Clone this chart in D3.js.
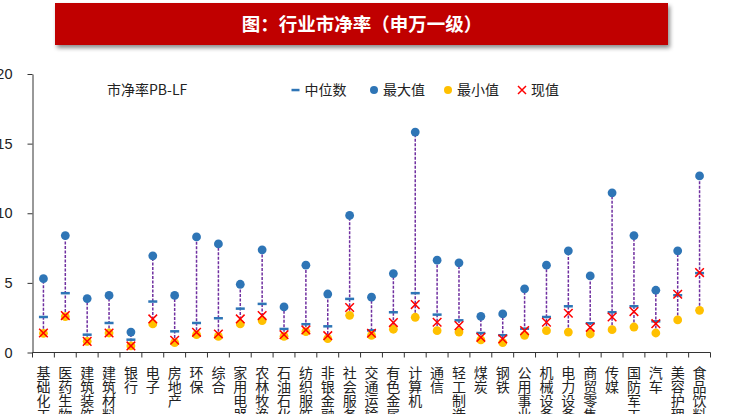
<!DOCTYPE html>
<html>
<head>
<meta charset="utf-8">
<script src="https://cdn.jsdelivr.net/npm/d3@7"></script>
<style>
  body { margin: 0; background: #fff; }
  svg { display: block; font-family: "Noto Sans CJK SC", "Noto Sans", sans-serif; }
</style>
</head>
<body>
<div id="chart"></div>
<script>
// 申万一级行业 市净率PB-LF
let categories = ["基础化工", "医药生物", "建筑装饰", "建筑材料", "银行", "电子", "房地产", "环保", "综合",
  "家用电器", "农林牧渔", "石油石化", "纺织服饰", "非银金融", "社会服务", "交通运输", "有色金属", "计算机",
  "通信", "轻工制造", "煤炭", "钢铁", "公用事业", "机械设备", "电力设备", "商贸零售", "传媒", "国防军工",
  "汽车", "美容护理", "食品饮料"];
let maxVals = [5.3, 8.4, 3.87, 4.1, 1.47, 6.94, 4.1, 8.3, 7.8, 4.9, 7.37, 3.27, 6.27, 4.2, 9.84, 3.97,
  5.67, 15.83, 6.63, 6.44, 2.6, 2.77, 4.57, 6.27, 7.3, 5.5, 11.47, 8.4, 4.47, 7.3, 12.68];
let medianVals = [2.55, 4.26, 1.28, 2.12, 0.92, 3.66, 1.52, 2.12, 2.46, 3.15, 3.49, 1.69, 2.03, 1.88, 3.85,
  1.59, 2.89, 4.26, 2.72, 2.31, 1.4, 1.24, 1.71, 2.55, 3.32, 2.1, 2.89, 3.32, 2.24, 4.11, 5.7];
let minVals = [1.38, 2.58, 0.8, 1.4, 0.47, 2.05, 0.71, 1.28, 1.16, 2.05, 2.29, 1.16, 1.5, 1.0, 2.67, 1.23,
  1.67, 2.53, 1.57, 1.47, 0.9, 0.71, 1.23, 1.57, 1.47, 1.33, 1.64, 1.83, 1.4, 2.34, 3.03];
let currentVals = [1.4, 2.65, 0.8, 1.4, 0.47, 2.41, 0.88, 1.45, 1.33, 2.41, 2.65, 1.28, 1.62, 1.21, 3.23,
  1.38, 2.15, 3.44, 2.17, 1.93, 1.09, 0.97, 1.57, 2.17, 2.82, 1.81, 2.55, 2.94, 2.07, 4.18, 5.74];
let yTicks = [0, 5, 10, 15, 20];
let legendItems = ["中位数", "最大值", "最小值", "现值"];

let width = 735;
let height = 414;
let blue = "#2E75B6";
let yellow = "#FFC000";
let red = "#FF0000";
let purple = "#7030A0";

let svg = d3.select("#chart").append("svg")
  .attr("width", width)
  .attr("height", height);

svg.append("rect").attr("width", width).attr("height", height).attr("fill", "#fff");

// title box with shadow
let defs = svg.append("defs");
let f = defs.append("filter").attr("id", "shadow")
  .attr("x", "-5%").attr("y", "-20%").attr("width", "115%").attr("height", "160%");
f.append("feDropShadow").attr("dx", 2).attr("dy", 3).attr("stdDeviation", 2)
  .attr("flood-color", "#000").attr("flood-opacity", 0.45);

svg.append("rect")
  .attr("x", 55).attr("y", 3).attr("width", 613).attr("height", 42)
  .attr("fill", "#C00000")
  .attr("filter", "url(#shadow)");
svg.append("text")
  .attr("x", 362).attr("y", 31)
  .attr("text-anchor", "middle")
  .attr("fill", "#fff")
  .attr("font-size", 18.5)
  .attr("font-weight", "bold")
  .text("图：行业市净率（申万一级）");

let x = d3.scaleBand().domain(categories).range([32.5, 710.5]).padding(0);
let y = d3.scaleLinear().domain([0, 20]).range([352.5, 74]);

let data = categories.map((c, i) => ({
  cat: c, max: maxVals[i], med: medianVals[i], min: minVals[i], cur: currentVals[i]
}));

// y axis
let yAxis = svg.append("g")
  .attr("transform", "translate(32.5,0)")
  .call(d3.axisLeft(y).tickValues(yTicks).tickSize(5).tickSizeOuter(0).tickPadding(15));
yAxis.select(".domain").attr("stroke", "#333");
yAxis.selectAll(".tick line").attr("stroke", "#333");
yAxis.selectAll(".tick text")
  .attr("font-size", 14.5)
  .attr("fill", "#222")
  .attr("font-family", "Liberation Sans, Arial, sans-serif");

// x axis: line + ticks at band edges
let xg = svg.append("g");
xg.append("line")
  .attr("x1", x.range()[0]).attr("x2", x.range()[1])
  .attr("y1", y(0)).attr("y2", y(0))
  .attr("stroke", "#333");
let edges = categories.map(c => x(c)).concat([x.range()[1]]);
xg.selectAll("line.xtick")
  .data(edges)
  .enter()
  .append("line")
  .classed("xtick", true)
  .attr("x1", d => d).attr("x2", d => d)
  .attr("y1", y(0)).attr("y2", y(0) + 5)
  .attr("stroke", "#333");

// vertical category labels (one text each, top-to-bottom)
xg.selectAll("text.xlabel")
  .data(categories)
  .enter()
  .append("text")
  .classed("xlabel", true)
  .attr("x", d => x(d) + x.bandwidth() / 2)
  .attr("y", 365.5)
  .style("writing-mode", "vertical-rl")
  .style("text-orientation", "upright")
  .attr("font-size", 14)
  .attr("fill", "#222")
  .text(d => d);

// range lines
let cx = d => x(d.cat) + x.bandwidth() / 2;
svg.append("g").selectAll("line")
  .data(data)
  .enter()
  .append("line")
  .attr("x1", cx).attr("x2", cx)
  .attr("y1", d => y(d.min)).attr("y2", d => y(d.max))
  .attr("stroke", purple)
  .attr("stroke-width", 1.5)
  .attr("stroke-dasharray", "3,1.5");

// medians
svg.append("g").selectAll("rect")
  .data(data)
  .enter()
  .append("rect")
  .attr("x", d => cx(d) - 4.5)
  .attr("y", d => y(d.med) - 1.25)
  .attr("width", 9)
  .attr("height", 2.5)
  .attr("fill", blue);

// max
svg.append("g").selectAll("circle")
  .data(data)
  .enter()
  .append("circle")
  .attr("cx", cx)
  .attr("cy", d => y(d.max))
  .attr("r", 4.4)
  .attr("fill", blue);

// min
svg.append("g").selectAll("circle")
  .data(data)
  .enter()
  .append("circle")
  .attr("cx", cx)
  .attr("cy", d => y(d.min))
  .attr("r", 4.4)
  .attr("fill", yellow);

// current
let cross = (px, py, s) => `M${px - s},${py - s}L${px + s},${py + s}M${px - s},${py + s}L${px + s},${py - s}`;
svg.append("g").selectAll("path")
  .data(data)
  .enter()
  .append("path")
  .attr("d", d => cross(cx(d), y(d.cur), 4.3))
  .attr("stroke", red)
  .attr("stroke-width", 1.5)
  .attr("fill", "none");

// legend
svg.append("text")
  .attr("x", 107).attr("y", 95)
  .attr("font-size", 14)
  .attr("fill", "#222")
  .text("市净率PB-LF");

let lg = svg.append("g");
let lx = [295.5, 374, 448, 522];
lg.append("rect").attr("x", lx[0] - 4).attr("y", 88.8).attr("width", 8).attr("height", 2.5).attr("fill", blue);
lg.append("circle").attr("cx", lx[1]).attr("cy", 90).attr("r", 4).attr("fill", blue);
lg.append("circle").attr("cx", lx[2]).attr("cy", 90).attr("r", 4).attr("fill", yellow);
lg.append("path").attr("d", cross(lx[3], 90, 4)).attr("stroke", red).attr("stroke-width", 1.5);
lg.selectAll("text")
  .data(legendItems)
  .enter()
  .append("text")
  .attr("x", (d, i) => lx[i] + 9)
  .attr("y", 95)
  .attr("font-size", 14)
  .attr("fill", "#222")
  .text(d => d);
</script>
</body>
</html>
